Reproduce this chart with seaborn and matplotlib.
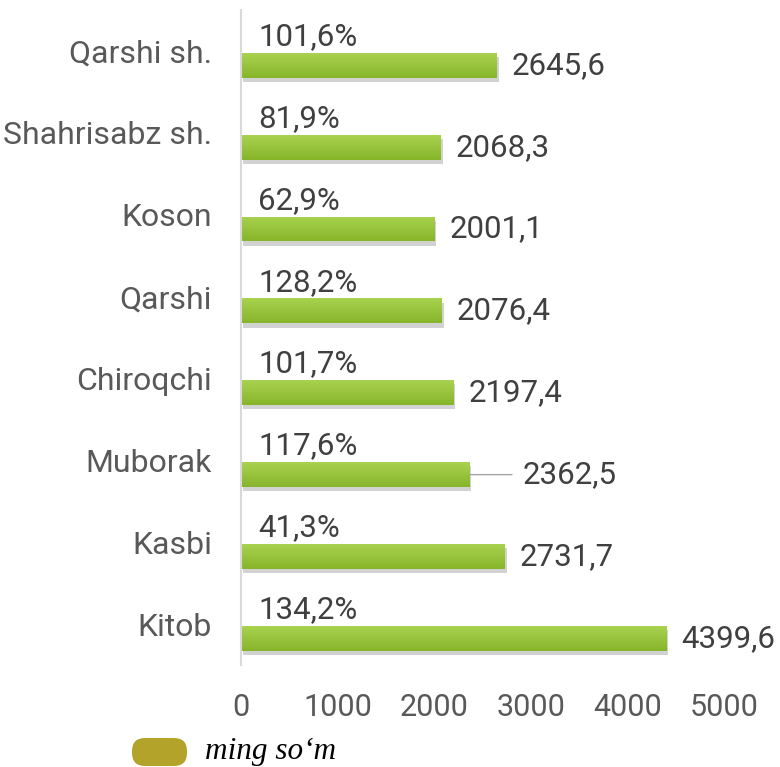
import numpy as np
import pandas as pd
import matplotlib
matplotlib.use("Agg")
import matplotlib.pyplot as plt
import seaborn as sns
from matplotlib.patches import FancyBboxPatch
from matplotlib import patheffects as pe
from matplotlib.colors import LinearSegmentedColormap
from matplotlib.transforms import IdentityTransform

# ---- data ----
regions = ["Qarshi sh.", "Shahrisabz sh.", "Koson", "Qarshi",
           "Chiroqchi", "Muborak", "Kasbi", "Kitob"]
values = [2645.6, 2068.3, 2001.1, 2076.4, 2197.4, 2362.5, 2731.7, 4399.6]
growth = [101.6, 81.9, 62.9, 128.2, 101.7, 117.6, 41.3, 134.2]
value_labels = ["2645,6", "2068,3", "2001,1", "2076,4",
                "2197,4", "2362,5", "2731,7", "4399,6"]
growth_labels = ["101,6%", "81,9%", "62,9%", "128,2%",
                 "101,7%", "117,6%", "41,3%", "134,2%"]
xticks = [0, 1000, 2000, 3000, 4000, 5000]
legend_label = "ming so\u2018m"

sns.set_theme(style="white")
plt.rcParams['font.family'] = ['Roboto', 'DejaVu Sans']

df = pd.DataFrame({
    "region": regions * 2,
    "series": ["growth"] * len(regions) + ["value"] * len(regions),
    "amount": growth + values,
})

W, H = 780, 767
fig = plt.figure(figsize=(W / 100, H / 100), dpi=100)
ax = fig.add_axes([241 / W, (H - 665) / H, (724 - 241) / W, (665 - 10) / H])

sns.barplot(data=df, x="amount", y="region", hue="series",
            hue_order=["growth", "value"], order=regions, orient="h",
            palette={"growth": "#FFFFFF", "value": "#95C43C"},
            width=0.7, gap=0.13, dodge=True, legend=False,
            saturation=1, linewidth=0, ax=ax)

cmap = LinearSegmentedColormap.from_list("g", ["#A8D24F", "#86B52A"])
grad = np.linspace(0, 1, 64).reshape(-1, 1)

growth_bars = ax.containers[0]
value_bars = ax.containers[1]

for p in growth_bars:
    p.set_alpha(0)

for p in value_bars:
    x0, y0, w, h = p.get_x(), p.get_y(), p.get_width(), p.get_height()
    p.set_path_effects([pe.SimplePatchShadow(offset=(1.5, -3),
                                             shadow_rgbFace=(0.3, 0.3, 0.3),
                                             alpha=0.25),
                        pe.Normal()])
    im = ax.imshow(grad, extent=(x0, x0 + w, y0 + h, y0), aspect='auto',
                   cmap=cmap, origin='upper', zorder=p.get_zorder() + 0.1,
                   interpolation='bilinear')
    im.set_clip_path(p)

ax.set_xlim(0, 5000)
ax.set_ylim(len(regions) - 0.5, -0.5)

label_color = "#404040"
fs = 22.5
for i, (pg, pv) in enumerate(zip(growth_bars, value_bars)):
    yg = pg.get_y() + pg.get_height() / 2
    ax.annotate(growth_labels[i], xy=(0, yg), xytext=(17, 0),
                textcoords='offset pixels', ha='left', va='center',
                fontsize=fs, color=label_color)
    yv = pv.get_y() + pv.get_height() / 2
    xend = pv.get_x() + pv.get_width()
    if regions[i] == "Muborak":
        ax.annotate(value_labels[i], xy=(xend, yv), xytext=(53, 0),
                    textcoords='offset pixels', ha='left', va='center',
                    fontsize=fs, color=label_color, annotation_clip=False,
                    arrowprops=dict(arrowstyle='-', color='#A6A6A6', lw=1,
                                    relpos=(0, 0.5), shrinkA=5, shrinkB=0))
    else:
        ax.annotate(value_labels[i], xy=(xend, yv), xytext=(15, 0),
                    textcoords='offset pixels', ha='left', va='center',
                    fontsize=fs, color=label_color, annotation_clip=False)

# axes styling
for s in ["top", "right", "bottom"]:
    ax.spines[s].set_visible(False)
ax.spines["left"].set_color("#D9D9D9")
ax.spines["left"].set_linewidth(1.5)

ax.set_xticks(xticks)
ax.set_xticklabels([str(t) for t in xticks])
ax.set_yticks(np.arange(-0.5, len(regions) + 0.5, 1), minor=True)
ax.tick_params(axis='y', which='major', length=0, pad=21, labelsize=23,
               labelcolor="#595959")
ax.tick_params(axis='y', which='minor', length=6, width=1.5, color="#D9D9D9")
ax.tick_params(axis='x', which='both', length=0, pad=20, labelsize=22,
               labelcolor="#595959")
ax.set_xlabel("")
ax.set_ylabel("")
ax.grid(False)

# legend
fig.add_artist(FancyBboxPatch((132, H - 766), 55, 28,
                              boxstyle="round,pad=0,rounding_size=13",
                              facecolor="#B3A32B", edgecolor="none",
                              transform=IdentityTransform()))
fig.text(205 / W, 1 - 752 / H, legend_label, fontstyle='italic',
         family=['Liberation Serif', 'DejaVu Serif'], fontsize=22.5,
         va='center', ha='left', color='black')

fig.savefig("out.png", dpi=100)
